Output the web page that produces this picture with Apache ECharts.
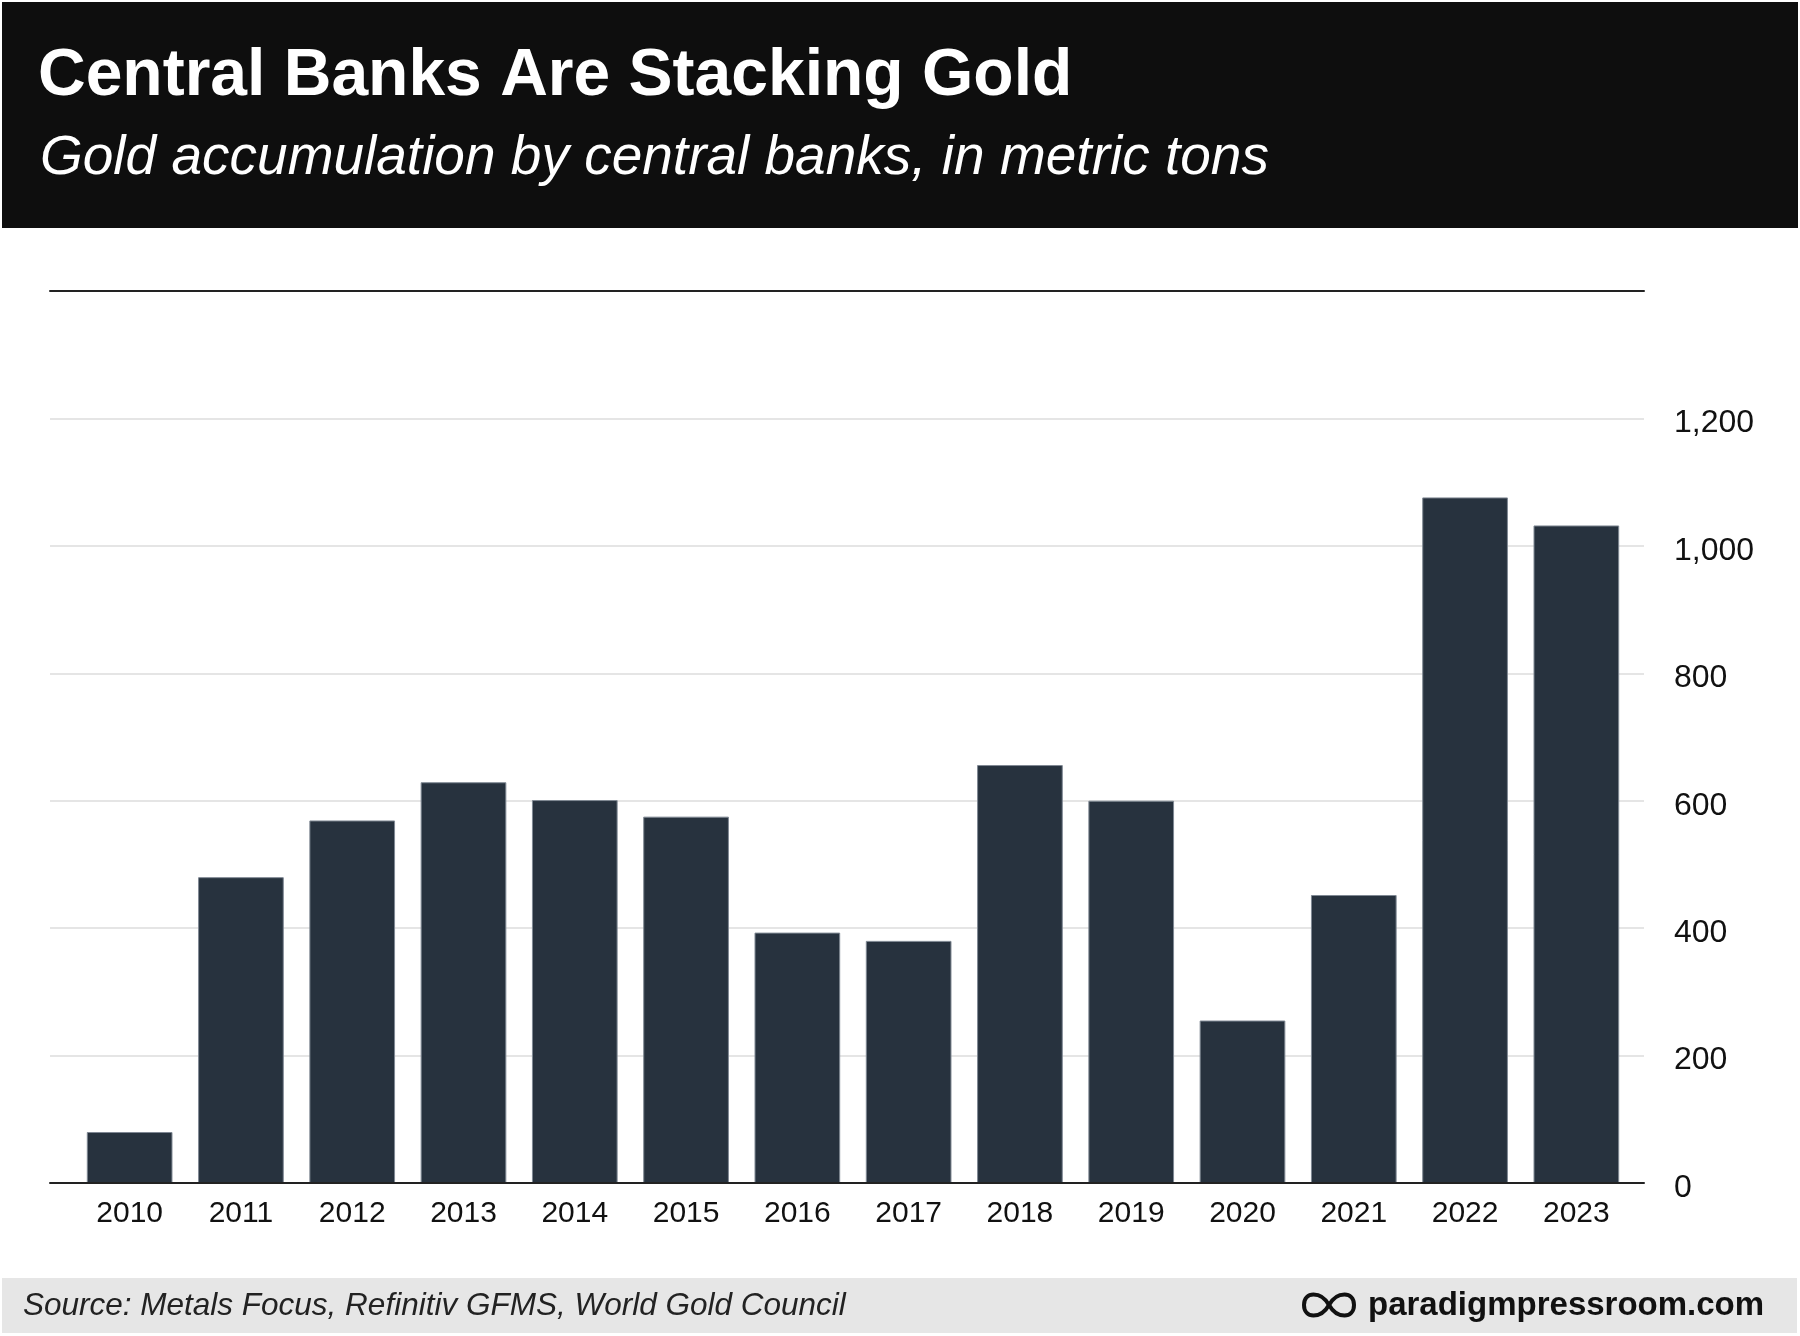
<!DOCTYPE html>
<html>
<head>
<meta charset="utf-8">
<script src="https://cdn.jsdelivr.net/npm/echarts@6/dist/echarts.min.js"></script>
<style>
html,body{margin:0;padding:0;background:#fff;}
#chart{width:1800px;height:1336px;}
</style>
</head>
<body>
<div id="chart"></div>
<script>
var titleText = 'Central Banks Are Stacking Gold';
var subtitleText = 'Gold accumulation by central banks, in metric tons';
var sourceText = 'Source: Metals Focus, Refinitiv GFMS, World Gold Council';
var brandText = 'paradigmpressroom.com';

var years = ['2010','2011','2012','2013','2014','2015','2016','2017','2018','2019','2020','2021','2022','2023'];
var tonnes = [80, 480, 569, 629, 601, 575, 393, 380, 656, 600, 255, 452, 1076, 1032];
var yTickValues = [0, 200, 400, 600, 800, 1000, 1200];
var yTickLabels = ['0', '200', '400', '600', '800', '1,000', '1,200'];

var FONT = "'Liberation Sans', Arial, Helvetica, sans-serif";
var chart = echarts.init(document.getElementById('chart'), null, {renderer: 'canvas'});

function loopCurve(x1, y1, x2, y2, c1x, c1y, c2x, c2y) {
  return {type: 'bezierCurve', x: 1304, y: 1294, z: 11, silent: true,
    shape: {x1: x1, y1: y1, x2: x2, y2: y2, cpx1: c1x, cpy1: c1y, cpx2: c2x, cpy2: c2y},
    style: {fill: null, stroke: '#111111', lineWidth: 4}};
}

chart.setOption({
  animation: false,
  backgroundColor: '#ffffff',
  textStyle: {fontFamily: FONT},
  grid: [
    {left: 50, right: 156, top: 291, bottom: 153, outerBoundsMode: 'none', containLabel: false},
    {left: 74, right: 168, top: 291, bottom: 153, outerBoundsMode: 'none', containLabel: false}
  ],
  xAxis: [
    {gridIndex: 0, type: 'category', data: years, position: 'bottom', z: 5,
     axisLine: {show: true, lineStyle: {color: '#222222', width: 2}},
     axisTick: {show: false}, axisLabel: {show: false}, splitLine: {show: false}},
    {gridIndex: 0, type: 'category', data: years, position: 'top', z: 5,
     axisLine: {show: true, lineStyle: {color: '#222222', width: 2}},
     axisTick: {show: false}, axisLabel: {show: false}, splitLine: {show: false}},
    {gridIndex: 1, type: 'category', data: years, position: 'bottom', boundaryGap: true,
     axisLine: {show: false}, axisTick: {show: false}, splitLine: {show: false},
     axisLabel: {show: true, color: '#111111', fontSize: 30, fontFamily: FONT, margin: 16, interval: 0}}
  ],
  yAxis: [
    {gridIndex: 0, type: 'value', position: 'right', min: 0, max: 1400, interval: 200,
     axisLine: {show: false}, axisTick: {show: false},
     splitLine: {show: true, lineStyle: {color: '#dddddd', width: 1.5}},
     axisLabel: {show: true, color: '#111111', fontSize: 32, fontFamily: FONT, margin: 30, align: 'left',
       verticalAlign: 'top', lineHeight: 10,
       showMaxLabel: false,
       formatter: function (v) { var i = yTickValues.indexOf(v); return i >= 0 ? yTickLabels[i] : ''; }}},
    {gridIndex: 1, type: 'value', min: 0, max: 1400, interval: 200, show: false,
     splitLine: {show: false}}
  ],
  series: [{
    type: 'bar',
    xAxisIndex: 2,
    yAxisIndex: 1,
    data: tonnes,
    barCategoryGap: '23%',
    silent: true,
    itemStyle: {color: '#27323e', borderColor: '#7f8893', borderWidth: 1}
  }],
  graphic: [
    {type: 'rect', x: 2, y: 2, z: 10, silent: true, shape: {x: 0, y: 0, width: 1796, height: 226}, style: {fill: '#0e0e0e'}},
    {type: 'text', x: 38, y: 77, z: 11, silent: true,
     style: {text: titleText, fill: '#ffffff', font: "bold 66px " + FONT, verticalAlign: 'middle', align: 'left'}},
    {type: 'text', x: 40, y: 159, z: 11, silent: true,
     style: {text: subtitleText, fill: '#ffffff', font: "italic 55px " + FONT, verticalAlign: 'middle', align: 'left'}},
    {type: 'rect', x: 2, y: 1278, z: 10, silent: true, shape: {x: 0, y: 0, width: 1795, height: 55}, style: {fill: '#e6e6e6'}},
    {type: 'text', x: 23, y: 1306, z: 11, silent: true,
     style: {text: sourceText, fill: '#222222', font: "italic 31.5px " + FONT, verticalAlign: 'middle', align: 'left'}},
    loopCurve(25, 11, 0, 11, 17, -3, 0, -3),
    loopCurve(0, 11, 25, 11, 0, 25, 17, 25),
    loopCurve(25, 11, 50, 11, 33, -3, 50, -3),
    loopCurve(50, 11, 25, 11, 50, 25, 33, 25),
    {type: 'text', x: 1368, y: 1306, z: 11, silent: true,
     style: {text: brandText, fill: '#111111', font: "bold 33px " + FONT, verticalAlign: 'middle', align: 'left'}}
  ]
});
</script>
</body>
</html>
